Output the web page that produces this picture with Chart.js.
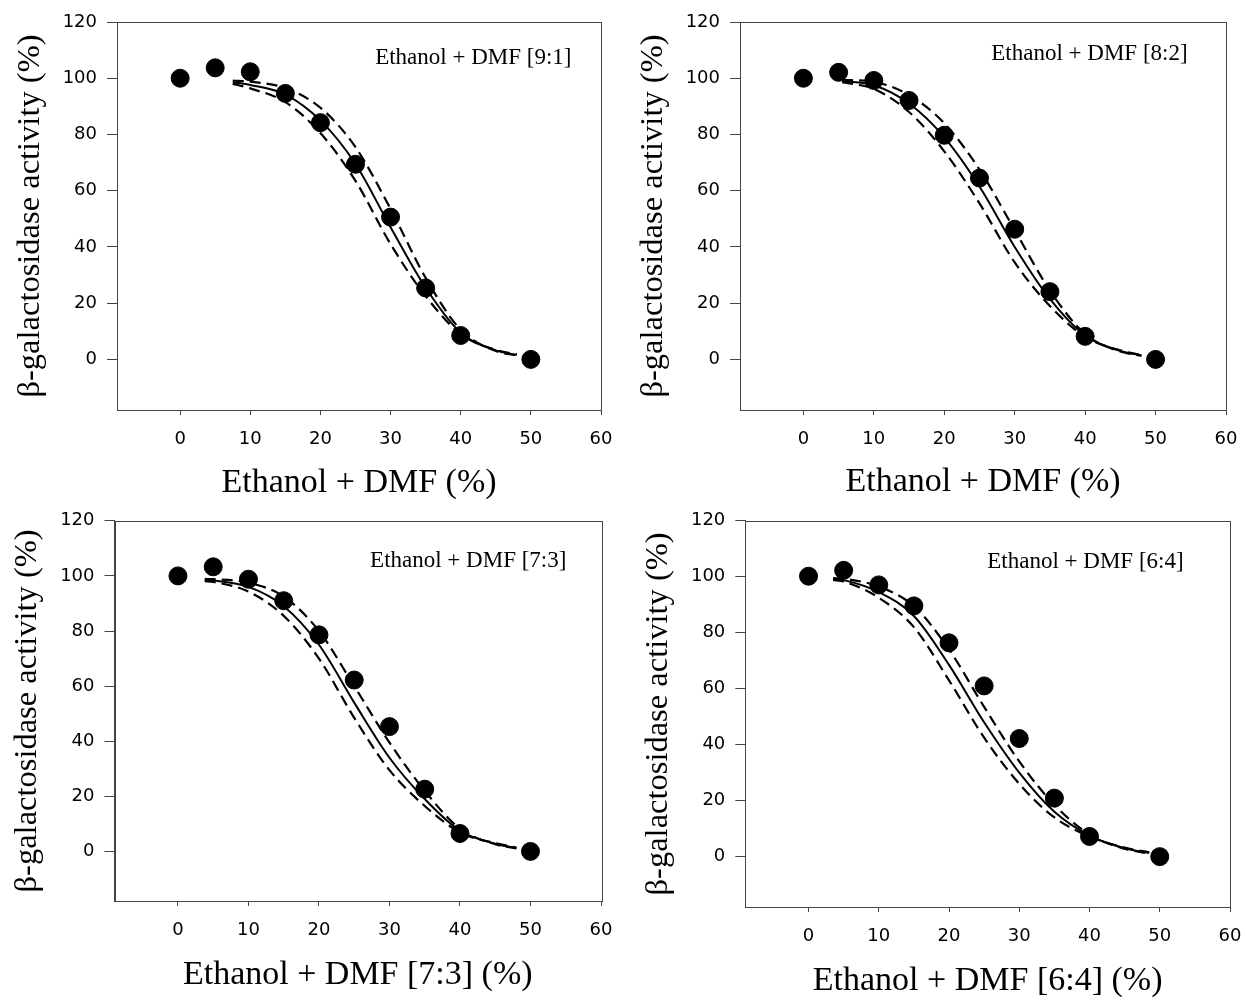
<!DOCTYPE html>
<html>
<head>
<meta charset="utf-8">
<title>beta-galactosidase activity vs Ethanol + DMF</title>
<script src="https://cdn.jsdelivr.net/npm/chart.js@4.4.1/dist/chart.umd.min.js"></script>
<style>
  body { margin: 0; background: #fff; width: 1246px; height: 1000px; position: relative; overflow: hidden; }
  canvas { position: absolute; }
</style>
</head>
<body>
<canvas id="panel91" width="631" height="500" style="left:0px;top:0px"></canvas>
<canvas id="panel82" width="633" height="500" style="left:623px;top:0px"></canvas>
<canvas id="panel73" width="631" height="500" style="left:0px;top:500px"></canvas>
<canvas id="panel64" width="637" height="500" style="left:623px;top:500px"></canvas>
<script>
// solvent concentration (%) where activity was measured
const solventPct = [0, 5, 10, 15, 20, 25, 30, 35, 40, 50];

// measured activity (%) for each ethanol:DMF ratio
const activity91 = [100, 103.7, 102.3, 94.6, 84.2, 69.4, 50.6, 25.4, 8.5, 0];
const activity82 = [100, 102.1, 99.2, 92.1, 79.7, 64.5, 46.3, 24.1, 8.2, 0];
const activity73 = [100, 103.3, 98.8, 91.0, 78.6, 62.2, 45.3, 22.6, 6.5, 0];
const activity64 = [100.2, 102.3, 97.1, 89.6, 76.4, 61.0, 42.2, 20.9, 7.2, 0];

// fitted curves (solid) and confidence bands (dashed)
const fitX91  = [7.5, 10, 15, 20, 25, 30, 35, 40, 45, 48];
const fit91   = [98.6, 97.6, 94.2, 85, 69.5, 47, 25.5, 9.5, 3.2, 1.6];
const upper91 = [99.2, 98.8, 96.5, 89.5, 75.5, 53.5, 29, 10.5, 3, 1.4];
const lower91 = [98, 96.4, 91.5, 80.5, 63.5, 41, 22.5, 9, 3.4, 1.8];

const fitX82  = [5.5, 10, 15, 20, 25, 30, 35, 40, 45, 48];
const fit82   = [99, 97.5, 91, 79, 61.5, 40, 21.5, 8.5, 3, 1.4];
const upper82 = [99.4, 98.7, 94, 84, 67.5, 46, 24.5, 9, 2.8, 1.3];
const lower82 = [98.6, 96.2, 88, 74, 55.5, 34.5, 19, 8, 3.2, 1.6];

const fitX73  = [3.8, 5, 10, 15, 20, 25, 30, 35, 40, 45, 48];
const fit73   = [98.5, 98.3, 96, 89, 75, 54, 34, 19, 7.5, 2.8, 1.2];
const upper73 = [98.9, 98.8, 97.5, 92.5, 80, 60, 39.5, 22, 8.2, 2.6, 1.1];
const lower73 = [98.1, 97.8, 94.3, 85.5, 70, 48.5, 29.5, 16.5, 6.9, 3, 1.4];

const fitX64  = [3.5, 5, 10, 15, 20, 25, 30, 35, 40, 45, 48.5];
const fit64   = [99.2, 98.8, 94.5, 86, 68.5, 48, 30, 16, 7.5, 3, 1.3];
const upper64 = [99.5, 99.3, 96.5, 89.5, 74, 53.5, 34, 18.5, 7.9, 2.8, 1.1];
const lower64 = [98.9, 98.3, 92.5, 82, 63, 42.5, 26, 14, 7.2, 3.2, 1.5];

// axis ticks
const xTicks = [0, 10, 20, 30, 40, 50, 60];
const yTicks = [0, 20, 40, 60, 80, 100, 120];

// texts
const yTitle = 'β-galactosidase activity (%)';
const xTitles = ['Ethanol + DMF (%)', 'Ethanol + DMF (%)', 'Ethanol + DMF [7:3] (%)', 'Ethanol + DMF [6:4] (%)'];
const ratioLabels = ['Ethanol + DMF [9:1]', 'Ethanol + DMF [8:2]', 'Ethanol + DMF [7:3]', 'Ethanol + DMF [6:4]'];

const Y_AXIS_W = 103;
const AXIS_COLOR = '#444';

// draws the closed frame round the plot area
const frameBox = {
  id: 'frameBox',
  afterDatasetsDraw(chart) {
    const { ctx, chartArea: a } = chart;
    ctx.save();
    ctx.strokeStyle = AXIS_COLOR;
    ctx.lineWidth = 1;
    ctx.strokeRect(Math.round(a.left) + 0.5, Math.round(a.top) + 0.5,
                   Math.round(a.right - a.left), Math.round(a.bottom - a.top));
    ctx.restore();
  }
};

// ratio label in the upper right corner
const ratioText = {
  id: 'ratioText',
  afterDatasetsDraw(chart, args, opts) {
    const { ctx, chartArea: a } = chart;
    ctx.save();
    ctx.font = '23px "Liberation Serif", "Times New Roman", serif';
    ctx.fillStyle = '#000';
    ctx.textAlign = 'right';
    ctx.textBaseline = 'alphabetic';
    ctx.fillText(opts.text, a.right - opts.right, a.top + opts.baseline);
    ctx.restore();
  }
};

function toPoints(xs, ys) {
  return xs.map((x, i) => ({ x: x, y: ys[i] }));
}

function makePanel(id, geo, pts, fitX, fit, upper, lower, xTitle, ratio) {
  const xAxisH = geo.titleDrop + 5.5;
  const cW = document.getElementById(id).width;
  const ctx = document.getElementById(id).getContext('2d');
  const curve = (ys, dash, w) => ({
    type: 'line',
    data: toPoints(fitX, ys),
    borderColor: '#000',
    borderWidth: w,
    borderDash: dash,
    pointRadius: 0,
    fill: false,
    cubicInterpolationMode: 'monotone',
    order: 1
  });

  new Chart(ctx, {
    type: 'scatter',
    data: {
      datasets: [
        {
          data: toPoints(solventPct, pts),
          backgroundColor: '#000',
          borderColor: '#000',
          pointRadius: 9,
          pointHoverRadius: 9,
          showLine: false,
          order: 0
        },
        curve(fit, [], 2),
        curve(upper, [11, 6], 2.2),
        curve(lower, [11, 6], 2.2)
      ]
    },
    options: {
      responsive: false,
      animation: false,
      events: [],
      layout: {
        padding: {
          left: geo.left - geo.cLeft - Y_AXIS_W,
          right: geo.cLeft + cW - geo.right,
          top: geo.top - geo.cTop,
          bottom: geo.cTop + 500 - geo.bottom - xAxisH
        }
      },
      plugins: {
        legend: { display: false },
        tooltip: { enabled: false },
        ratioText: { text: ratio, right: geo.annRight, baseline: geo.annBase }
      },
      scales: {
        x: {
          type: 'linear',
          min: -9,
          max: 60,
          afterBuildTicks: axis => { axis.ticks = xTicks.map(v => ({ value: v })); },
          afterFit: axis => { axis.height = xAxisH; },
          grid: { drawOnChartArea: false, drawTicks: true, tickLength: 5, color: AXIS_COLOR },
          border: { display: true, color: AXIS_COLOR, width: 1 },
          ticks: {
            color: '#000',
            padding: 14,
            maxRotation: 0,
            font: { family: '"DejaVu Sans", sans-serif', size: 18 }
          },
          title: {
            display: true,
            text: xTitle,
            color: '#000',
            padding: { top: 0, bottom: -geo.titleShift },
            font: { family: '"Liberation Serif", "Times New Roman", serif', size: 34, lineHeight: 1 }
          }
        },
        y: {
          type: 'linear',
          min: -18,
          max: 120,
          afterBuildTicks: axis => { axis.ticks = yTicks.map(v => ({ value: v })); },
          afterFit: axis => { axis.width = Y_AXIS_W; },
          grid: { drawOnChartArea: false, drawTicks: true, tickLength: 10, color: AXIS_COLOR },
          border: { display: true, color: AXIS_COLOR, width: 1 },
          ticks: {
            color: '#000',
            padding: 10,
            font: { family: '"DejaVu Sans", sans-serif', size: 18 }
          },
          title: {
            display: true,
            text: yTitle,
            color: '#000',
            padding: { top: 0, bottom: 0 },
            font: { family: '"Liberation Serif", "Times New Roman", serif', size: 32.5, lineHeight: 1 }
          }
        }
      }
    },
    plugins: [frameBox, ratioText]
  });
}

makePanel('panel91',
  { cLeft: 0, cTop: 0, left: 117, right: 601, top: 22, bottom: 410, titleDrop: 79.5, titleShift: 5, annRight: 29.5, annBase: 42.3 },
  activity91, fitX91, fit91, upper91, lower91, xTitles[0], ratioLabels[0]);

makePanel('panel82',
  { cLeft: 623, cTop: 0, left: 740, right: 1226, top: 22, bottom: 410, titleDrop: 79, titleShift: 5, annRight: 38.4, annBase: 38 },
  activity82, fitX82, fit82, upper82, lower82, xTitles[1], ratioLabels[1]);

makePanel('panel73',
  { cLeft: 0, cTop: 500, left: 114.5, right: 601, top: 512, bottom: 901, titleDrop: 79, titleShift: 7, annRight: 34.6, annBase: 46.3 },
  activity73, fitX73, fit73, upper73, lower73, xTitles[2], ratioLabels[2]);

makePanel('panel64',
  { cLeft: 623, cTop: 500, left: 745.3, right: 1230, top: 520, bottom: 907, titleDrop: 76, titleShift: 10, annRight: 46.4, annBase: 46.7 },
  activity64, fitX64, fit64, upper64, lower64, xTitles[3], ratioLabels[3]);
</script>
</body>
</html>
